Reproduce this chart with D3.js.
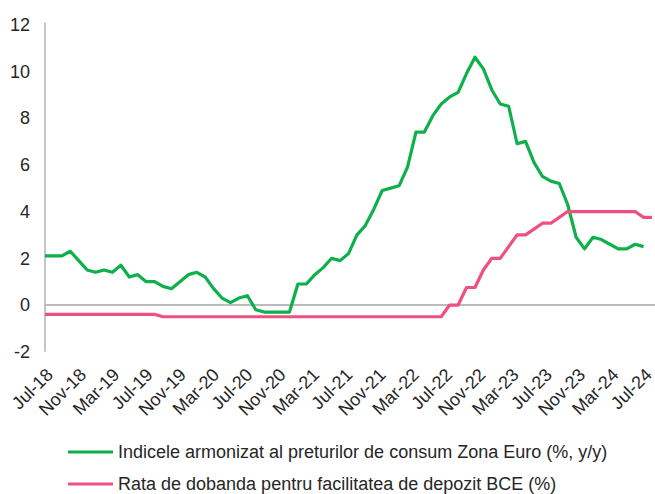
<!DOCTYPE html>
<html>
<head>
<meta charset="utf-8">
<script src="https://cdn.jsdelivr.net/npm/d3@7"></script>
<style>
  html, body { margin: 0; padding: 0; background: #fff; }
  svg { display: block; font-family: "Liberation Sans", Arial, sans-serif; }
</style>
</head>
<body>
<svg id="chart" width="655" height="494"></svg>
<script>
// ── DATA ────────────────────────────────────────────
const MONTHS = ['Jan','Feb','Mar','Apr','May','Jun','Jul','Aug','Sep','Oct','Nov','Dec'];
const periods = [];
for (let y = 18; y <= 24; y++) {
  MONTHS.forEach((m, i) => {
    if ((y === 18 && i < 6) || (y === 24 && i > 6)) return;
    periods.push(`${m}-${y}`);
  });
}

// HICP euro area, % y/y (Jul-18 .. Jun-24)
const hicp = [
  2.1, 2.1, 2.1, 2.3, 1.9, 1.5,
  1.4, 1.5, 1.4, 1.7, 1.2, 1.3, 1.0, 1.0, 0.8, 0.7, 1.0, 1.3,
  1.4, 1.2, 0.7, 0.3, 0.1, 0.3, 0.4, -0.2, -0.3, -0.3, -0.3, -0.3,
  0.9, 0.9, 1.3, 1.6, 2.0, 1.9, 2.2, 3.0, 3.4, 4.1, 4.9, 5.0,
  5.1, 5.9, 7.4, 7.4, 8.1, 8.6, 8.9, 9.1, 9.9, 10.6, 10.1, 9.2,
  8.6, 8.5, 6.9, 7.0, 6.1, 5.5, 5.3, 5.2, 4.3, 2.9, 2.4, 2.9,
  2.8, 2.6, 2.4, 2.4, 2.6, 2.5
];

// ECB deposit facility rate, % (Jul-18 .. Jul-24)
const depo = [
  -0.4, -0.4, -0.4, -0.4, -0.4, -0.4,
  -0.4, -0.4, -0.4, -0.4, -0.4, -0.4, -0.4, -0.4, -0.5, -0.5, -0.5, -0.5,
  -0.5, -0.5, -0.5, -0.5, -0.5, -0.5, -0.5, -0.5, -0.5, -0.5, -0.5, -0.5,
  -0.5, -0.5, -0.5, -0.5, -0.5, -0.5, -0.5, -0.5, -0.5, -0.5, -0.5, -0.5,
  -0.5, -0.5, -0.5, -0.5, -0.5, -0.5, 0.0, 0.0, 0.75, 0.75, 1.5, 2.0,
  2.0, 2.5, 3.0, 3.0, 3.25, 3.5, 3.5, 3.75, 4.0, 4.0, 4.0, 4.0,
  4.0, 4.0, 4.0, 4.0, 4.0, 3.75, 3.75
];

const yTicks = [-2, 0, 2, 4, 6, 8, 10, 12];
const xTickLabels = periods.filter((p, i) => i % 4 === 0);

const series = [
  { name: 'Indicele armonizat al preturilor de consum Zona Euro (%, y/y)', values: hicp, color: '#0db04b' },
  { name: 'Rata de dobanda pentru facilitatea de depozit BCE (%)',        values: depo, color: '#ee5080' }
];

// ── LAYOUT ──────────────────────────────────────────
const svg = d3.select('#chart');
const x  = d3.scalePoint().domain(periods).range([45, 652]);
const xl = d3.scalePoint().domain(periods).range([54, 653]);   // label anchors (Excel drift)
const y  = d3.scaleLinear().domain([-2, 12]).range([351.8, 24.5]);
const FS = '18px';

// y labels
svg.append('g').selectAll('text')
  .data(yTicks).enter().append('text')
  .attr('x', 30).attr('y', d => y(d)).attr('dy', '0.35em')
  .attr('text-anchor', 'end')
  .attr('font-size', FS).attr('fill', '#262626')
  .text(d => d);

// y axis line
svg.append('line')
  .attr('x1', 45).attr('x2', 45)
  .attr('y1', y(12) - 2).attr('y2', y(-2))
  .attr('stroke', '#a6a6a6').attr('stroke-width', 1.3);

// zero line
svg.append('line')
  .attr('x1', 45).attr('x2', 655)
  .attr('y1', y(0)).attr('y2', y(0))
  .attr('stroke', '#a6a6a6').attr('stroke-width', 1.5);

// x labels, rotated
svg.append('g').selectAll('text')
  .data(xTickLabels).enter().append('text')
  .attr('text-anchor', 'end')
  .attr('font-size', FS).attr('fill', '#262626')
  .attr('transform', d => `translate(${xl(d)},${y(-2) + 24}) rotate(-45)`)
  .text(d => d);

// lines
const line = d3.line()
  .x((d, i) => x(periods[i]))
  .y(d => y(d));

series.forEach(s => {
  svg.append('path')
    .datum(s.values)
    .attr('d', line)
    .attr('fill', 'none')
    .attr('stroke', s.color)
    .attr('stroke-width', 3.2)
    .attr('stroke-linejoin', 'round');
});

// legend
const lg = svg.append('g').selectAll('g')
  .data(series).enter().append('g')
  .attr('transform', (d, i) => `translate(68,${452 + i * 32})`);
lg.append('line')
  .attr('x1', 0).attr('x2', 45)
  .attr('stroke', d => d.color).attr('stroke-width', 3.2);
lg.append('text')
  .attr('x', 50).attr('dy', '0.35em')
  .attr('font-size', FS).attr('fill', '#262626')
  .text(d => d.name);
</script>
</body>
</html>
